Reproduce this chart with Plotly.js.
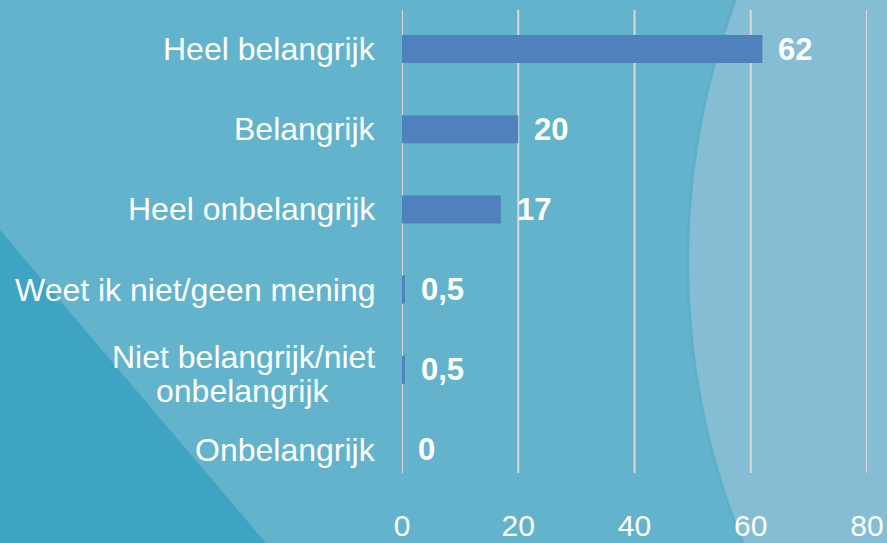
<!DOCTYPE html>
<html>
<head>
<meta charset="utf-8">
<script src="https://cdn.plot.ly/plotly-3.0.1.min.js"></script>
<style>
  html, body { margin: 0; padding: 0; width: 887px; height: 543px; overflow: hidden; }
  #wrap { position: relative; width: 887px; height: 543px; background: #63b3cd; }
  #bg { position: absolute; left: 0; top: 0; }
  #chart { position: absolute; left: 0; top: 0; width: 887px; height: 543px; }
</style>
</head>
<body>
<div id="wrap">
  <svg id="bg" width="887" height="543" xmlns="http://www.w3.org/2000/svg">
    <rect x="0" y="0" width="887" height="543" fill="#63b3cd"/>
    <polygon points="0,230 266,543 0,543" fill="#3ea4c2"/>
    <circle cx="1431" cy="262" r="745" fill="#5eb0ca"/>
    <circle cx="1431" cy="262" r="742" fill="#85bdd4"/>
  </svg>
  <div id="chart"></div>
</div>
<script>
const categories = [
  "Heel belangrijk",
  "Belangrijk",
  "Heel onbelangrijk",
  "Weet ik niet/geen mening",
  "Niet belangrijk/niet<br>onbelangrijk",
  "Onbelangrijk"
];
const values = [62, 20, 17, 0.5, 0.5, 0];
const valueLabels = ["62", "20", "17", "0,5", "0,5", "0"];
const xTicks = [0, 20, 40, 60, 80];
const xTickLabels = ["0", "20", "40", "60", "80"];

const font = "Liberation Sans, Arial, sans-serif";

const trace = {
  type: "bar",
  orientation: "h",
  x: values,
  y: categories,
  marker: { color: "#4f81bd", line: { width: 0 } },
  hoverinfo: "skip"
};

const annotations = values.map((v, i) => ({
  x: v, y: categories[i], xref: "x", yref: "y",
  text: valueLabels[i], showarrow: false,
  xanchor: "left", yanchor: "middle", xshift: 14, yshift: 0,
  font: { family: font, size: 31, color: "#ffffff", weight: "bold" }
}));

// category labels (centre-aligned lines, compact line spacing)
const lineStep = 34;
categories.forEach(c => {
  const lines = c.split("<br>");
  lines.forEach((ln, k) => {
    annotations.push({
      x: 0, y: c, xref: "paper", yref: "y",
      text: ln, showarrow: false,
      xanchor: lines.length > 1 ? "center" : "right", yanchor: "middle",
      xshift: lines.length > 1 ? -24 - 135 : -24,
      yshift: ((lines.length - 1) / 2 - k) * lineStep - (lines.length > 1 ? 4 : 0),
      font: { family: font, size: 32, color: "#ffffff" }
    });
  });
});

const gridBottom = (490 - 473) / 481;
const shapes = xTicks.map(t => ({
  type: "line", xref: "x", yref: "paper",
  x0: t, x1: t, y0: gridBottom, y1: 0.998,
  line: { color: "#d9d9d9", width: 2 }, layer: "below"
}));

const layout = {
  width: 887, height: 543,
  margin: { l: 402, r: 20, t: 9, b: 53, pad: 0 },
  paper_bgcolor: "rgba(0,0,0,0)",
  plot_bgcolor: "rgba(0,0,0,0)",
  bargap: 0.65,
  showlegend: false,
  xaxis: {
    range: [0, 80],
    tickvals: xTicks, ticktext: xTickLabels,
    showgrid: false, zeroline: false, showline: false,
    ticks: "", ticklabelstandoff: 15,
    tickfont: { family: font, size: 30, color: "#ffffff" },
    fixedrange: true
  },
  yaxis: {
    type: "category",
    categoryorder: "array", categoryarray: categories,
    range: [5.5, -0.5],
    showgrid: false, zeroline: false, showline: false,
    showticklabels: false, ticks: "",
    fixedrange: true
  },
  annotations: annotations,
  shapes: shapes
};

Plotly.newPlot("chart", [trace], layout, { staticPlot: true, displayModeBar: false });
</script>
</body>
</html>
